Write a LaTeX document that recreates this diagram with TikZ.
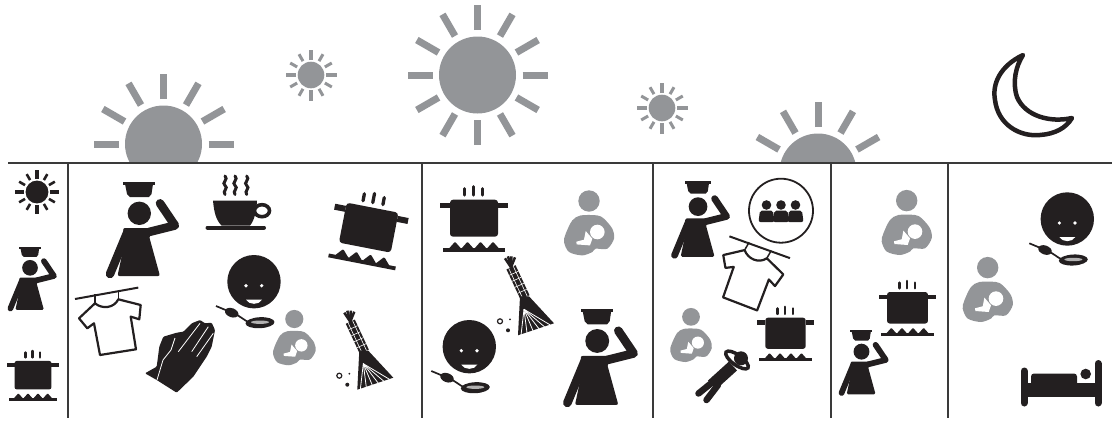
\documentclass[tikz,border=0pt]{standalone}
\usetikzlibrary{calc}
\definecolor{ink}{HTML}{231F20}
\definecolor{sungray}{HTML}{939598}
\definecolor{rule}{HTML}{3A3A3A}
\tikzset{
    bigsun/.pic={
        \fill (0,0) circle (38.5);
        \foreach \a in {0,30,...,330} \draw[line width=7pt] (\a:45) -- (\a:70);
    },
    pics/smallsun/.style={code={
        \begin{scope}[scale=#1]
        \fill (0,0) circle (13.3);
        \foreach \a in {0,90,180,270} \draw[line width=#1*4pt] (\a:15) -- (\a:25.5);
        \foreach \a in {30,60,120,150,210,240,300,330} \draw[line width=#1*3pt] (\a:16) -- (\a:24);
        \end{scope}
    }},
    pics/cook/.style={code={
        \begin{scope}[scale=#1,color=ink]
        \fill (-20,-48.5) rectangle (12,-45.5);
        \fill (-18,-46) -- (10,-46) -- (8.5,-36) -- (6,-33) -- (-13,-33) -- (-16,-36) -- cycle;
        \fill (-3.7,-16.7) circle (11.7);
        \fill[rounded corners=#1*2pt] (-20,-2) -- (12,-2) -- (6,6) -- (17,46) -- (-25.5,46) -- (-18.5,13) -- cycle;
        \draw[line width=#1*8.5pt, line cap=round, line join=round] (6,2) -- (32,-4.5) -- (17,-26.7);
        \draw[line width=#1*8.5pt, line cap=round] (-16,3) -- (-33,44);
        \end{scope}
    }},
    pics/pot/.style={code={
        \begin{scope}[scale=#1,color=ink]
        \fill[rounded corners=#1*3pt] (-24,-17) -- (24,-17) -- (24,20) -- (-24,20) -- cycle;
        \fill (-34,-14) rectangle (-24,-8.5);
        \fill (24,-14) rectangle (34,-8.5);
        \fill (-31,31.5) rectangle (31,35);
        \foreach \x in {-19,-6.5,6.5,19} \fill[rounded corners=#1*1pt] (\x-6.2,32) -- (\x,25) -- (\x+6.2,32) -- cycle;
        \draw[line width=#1*3pt, line cap=round] (-9.7,-28) -- (-9.7,-21.5);
        \draw[line width=#1*3pt, line cap=round] (-.7,-30) -- (-.7,-21.5);
        \draw[line width=#1*3pt, line cap=round] (8.7,-28) -- (8.7,-21.5);
        \end{scope}
    }},
    child/.pic={
        \fill[ink] (0,0) circle (26.7);
        \fill[white] (-8,4) circle (1.8);
        \fill[white] (7.7,4) circle (1.8);
        \fill[white] (-8,18) .. controls (-5,23.5) and (5,23.5) .. (8,18) -- cycle;
        \draw[ink, line width=1.7pt] (-38,24.3) .. controls (-30,27) .. (-22,31) .. controls (-15,33) and (-10,39) .. (-4,41);
        \fill[ink, rotate around={-20:(-22.3,31)}] (-22.3,31) ellipse [x radius=7, y radius=4.5];
        \fill[ink, rotate around={3:(6,41)}] (6,41) ellipse [x radius=14.5, y radius=5.5];
        \fill[white!65!ink] (6,40.5) ellipse [x radius=9, y radius=1.7];
    },
    mother/.pic={
        \fill[sungray] (0,-22.7) circle (10.7);
        \fill[sungray] plot[smooth cycle] coordinates {(-8.3,-8.3) (-16.7,-3.3) (-23.3,10) (-25,18.3) (-20,28.3) (-6.7,31.7) (3.3,28.3) (6.7,25) (18.3,25) (25,15) (23.3,5) (15,-5) (8.3,-8.3)};
        \fill[white] (8.3,8.3) circle (7.3);
        \fill[white] (-3.3,7.3) -- (3.3,15) -- (1,21.7) -- (-12.3,20.7) -- (-12.7,18) -- (-5,16) -- cycle;
    },
    broom/.pic={
        \draw[ink, line width=10pt] (-13,-30) -- (1,0);
        \draw[white, line width=.6pt] (-15.3,-29) -- (-1.3,1);
        \draw[white, line width=.6pt] (-10.7,-31) -- (3.3,-1);
        \foreach \t in {.2,.4,.6,.8} \draw[white, line width=.6pt] ($(-13,-30)!\t!(1,0)+(-4.5,2)$) -- ($(-13,-30)!\t!(1,0)+(4.5,-2)$);
        \foreach \x/\y in {-19/-39,-16/-41,-12.5/-41,-9/-40} \draw[ink, line width=2.5pt] (-13,-30) -- (\x,\y);
        \fill[ink] (-4,-1) -- (5,-1) -- (30,26) -- (-6,38) -- cycle;
        \foreach \x/\y in {-3/38,3/35.5,9/33.5,15/31.5,20.5/29.5,26/27.5} \draw[white, line width=.8pt] (0,12) -- (\x,\y);
        \draw[ink, line width=1.2pt] (-24,24) circle (2.5);
        \fill[ink] (-14,22) circle (1);
        \fill[ink] (-16,33) circle (2);
    },
    shirt/.pic={
        \draw[ink, line width=2.2pt, line join=round, fill=white] (-15,-20) -- (-31,-5) -- (-22.7,5) -- (-16,0) -- (-10,31.7) -- (26,26) -- (20.7,-6.7) -- (29.3,-4) -- (30.7,-18.3) -- (8.3,-24) .. controls (4,-15) and (-8,-14) .. (-15,-20);
        \draw[ink, line width=2pt] (-35,-24.3) -- (28.3,-35.7);
        \draw[ink, line width=1.5pt] (-15,-20) -- (-15,-29);
        \draw[ink, line width=1.5pt] (8.3,-24) -- (8.3,-33);
    },
}
\begin{document}
\begin{tikzpicture}[x=1pt, y=-1pt, line cap=butt]
\useasboundingbox (0,0) rectangle (1112,421);

% Sky
\pic[color=sungray] (noon) at (477.5,75) {bigsun};
\pic[color=sungray] (morning) at (311,75) {smallsun=1};
\pic[color=sungray] (afternoon) at (662,108) {smallsun=1};
\begin{scope}
\clip (0,0) rectangle (1112,163);
\pic[color=sungray] (sunrise) at (163.5,144) {bigsun};
\pic[color=sungray] (sunset) at (818,172) {bigsun};
\end{scope}
\draw[ink, line width=4.5pt, line join=round] (1023,55) .. controls (1000,66) and (992,84) .. (995,100) .. controls (998,125) and (1020,137) .. (1040,135) .. controls (1055,134) and (1066,128) .. (1072,118) .. controls (1050,123) and (1025,116) .. (1017,97) .. controls (1012,82) and (1016,66) .. (1023,55) -- cycle;

% Time line
\draw[rule, line width=1.5pt] (8,163) -- (1112,163);
\foreach \x in {68,422,653,831,948} \draw[rule, line width=1.5pt] (\x,163) -- (\x,418);

% Key
\pic[color=ink] (keysun) at (37,192) {smallsun=.86};
\pic (keycook) at (32.5,279) {cook=.67};
\pic (keypot) at (33,374) {pot=.77};

% Early morning
\pic (cooka) at (143,230) {cook=1};
\pic (shirta) at (110,323.3) {shirt};
\pic (pota) [rotate=-11] at (369,226) {pot=1.1};
\pic (childa) at (254,281.7) {child};
\pic (mothera) [scale=.85] at (294.3,338.3) {mother};
\pic (brooma) at (363.3,351.7) {broom};
% cup of tea
\fill[ink] (213,200.5) -- (257,200.5) .. controls (256.5,212) and (254,221) .. (250,225.5) -- (221.5,225.5) .. controls (216,220) and (214,212) .. (213,200.5) -- cycle;
\draw[ink, line width=3.6pt] (262,210.7) ellipse [x radius=7.5, y radius=6];
\draw[ink, line width=4pt, line cap=round] (207.5,227.5) -- (264,227.5);
\foreach \x in {225,235,246.7} \draw[ink, line width=3pt, line cap=round] (\x,176) .. controls (\x+4,179) and (\x-4,183) .. (\x,185.5) .. controls (\x+4,188) and (\x-3,191) .. (\x,194.5);
% hands
\fill[ink, rounded corners=1pt] (145,373.3) -- (156.7,366.7) -- (159.3,346.7) -- (163.3,336.7) -- (176.7,332.7) -- (183.3,331.7) -- (191.7,323.3) -- (200,320) -- (205,323.3) -- (211.7,322.7) -- (215,330) -- (211.7,346.7) -- (206.7,356.7) -- (193.3,376.7) -- (176.7,392.7) -- (156.7,380) -- cycle;
\draw[white, line width=.8pt] (157,380) -- (163,360) -- (171,350) -- (175,338);
\draw[white, line width=.8pt] (178.3,351.7) -- (200,323.3);
\draw[white, line width=.8pt] (191.7,351.7) -- (208.3,326.7);
\draw[white, line width=.8pt] (196.7,356.7) -- (213.3,333.3);

% Forenoon
\pic (potb) at (474,216.7) {pot=1};
\pic (motherb) at (589,223.7) {mother};
\pic (broomb) at (524,297.3) {broom};
\pic (childb) at (469.3,346.7) {child};
\pic (cookb) at (601,358) {cook=1.02};

% Afternoon
\pic (cookc) at (701,220) {cook=.8};
\draw[ink, line width=1.8pt] (781,210.7) circle (32);
\foreach \x in {-14.5,0,14.5} {
    \fill[ink] (781+\x,205) circle (4.8);
    \fill[ink, rounded corners=2pt] (781+\x-8,222) -- (781+\x-6.5,210.5) -- (781+\x+6.5,210.5) -- (781+\x+8,222) -- cycle;
}
\pic (shirtc) [rotate=-30] at (747.6,274.9) {shirt};
\pic (motherc) [scale=.83] at (691,335.7) {mother};
\pic (potc) at (785.5,332) {pot=.84};
% lying down
\draw[ink, line width=12pt] (733,366) -- (712,385);
\draw[ink, line width=6.5pt, line cap=round] (714,381) -- (698.5,393.5);
\draw[ink, line width=6.5pt, line cap=round] (718,385) -- (706.5,400);
\draw[ink, line width=3.5pt, fill=white, rotate around={-36:(737,360)}] (737,360) ellipse [x radius=13.5, y radius=5];
\fill[ink] (741,358.3) circle (7);

% Evening
\pic (motherd) at (906.7,223.3) {mother};
\pic (potd) at (907.5,306.5) {pot=.85};
\pic (cookd) at (864,363) {cook=.68};

% Night
\pic (childe) at (1067.3,219) {child};
\pic (mothere) at (987.7,290.3) {mother};
% bed
\draw[ink, line width=7pt, line cap=round] (1024,371) -- (1024,403);
\draw[ink, line width=7pt, line cap=round] (1098,363.5) -- (1098,403);
\fill[ink] (1024,382.5) rectangle (1098,396.5);
\fill[ink, rounded corners=3pt] (1031,387) -- (1031,373.5) -- (1077,373.5) -- (1077,387) -- cycle;
\fill[ink] (1085.7,374) circle (5.3);
\end{tikzpicture}
\end{document}
